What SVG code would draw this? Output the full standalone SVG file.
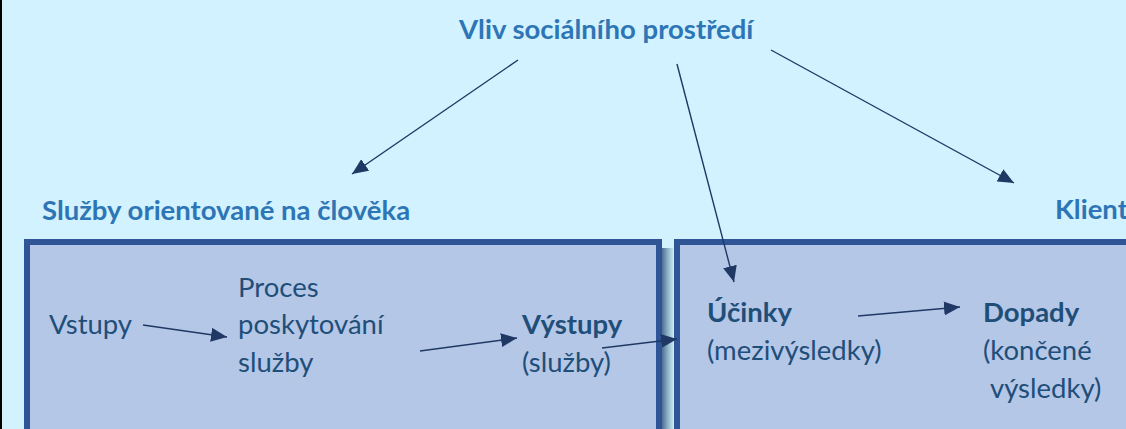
<svg xmlns="http://www.w3.org/2000/svg" width="1126" height="429" viewBox="0 0 1126 429">
  <style>
    .hdr { font-family: Lato, "Open Sans", sans-serif; font-weight: bold; font-size: 27.5px; fill: #2E75B6; }
    .txt { font-family: Lato, "Open Sans", sans-serif; font-size: 27.5px; fill: #1F4E79; }
    .b { font-weight: bold; }
    .box { fill: #B4C7E7; stroke: #2F5597; stroke-width: 6; }
    .con { stroke: #1F3864; stroke-width: 1.4; fill: none; marker-end: url(#ah); }
  </style>
  <defs>
    <marker id="ah" viewBox="0 0 16 14" refX="16" refY="7" markerWidth="16" markerHeight="14" markerUnits="userSpaceOnUse" orient="auto">
      <path d="M0,0 L16,7 L0,14 Z" fill="#1F3864"/>
    </marker>
    <linearGradient id="shd" x1="0" y1="0" x2="1" y2="0">
      <stop offset="0" stop-color="#4E6F93"/>
      <stop offset="0.5" stop-color="#8FB3C8"/>
      <stop offset="1" stop-color="#CDEFF8"/>
    </linearGradient>
  </defs>
  <rect x="0" y="0" width="1126" height="429" fill="#D1F2FE"/>
  <rect x="0" y="0" width="2" height="429" fill="#000000"/>

  <g id="shadow">
    <rect x="662" y="248" width="12" height="181" fill="url(#shd)"/>
  </g>

  <g id="node-sluzby">
    <rect class="box" x="27" y="242" width="632" height="200"/>
    <text class="hdr" x="42" y="220">Služby orientované na člověka</text>
  </g>
  <g id="node-klient">
    <rect class="box" x="677" y="242" width="460" height="200"/>
    <text class="hdr" x="1055" y="219">Klient</text>
  </g>
  <g id="node-vliv">
    <text class="hdr" x="459" y="39">Vliv sociálního prostředí</text>
  </g>
  <g id="node-vstupy">
    <text class="txt" x="49" y="334">Vstupy</text>
  </g>
  <g id="node-proces">
    <text class="txt" x="238" y="297">Proces</text>
    <text class="txt" x="238" y="334">poskytování</text>
    <text class="txt" x="238" y="372">služby</text>
  </g>
  <g id="node-vystupy">
    <text class="txt b" x="522" y="334">Výstupy</text>
    <text class="txt" x="522" y="372">(služby)</text>
  </g>
  <g id="node-ucinky">
    <text class="txt b" x="707" y="322">Účinky</text>
    <text class="txt" x="707" y="360">(mezivýsledky)</text>
  </g>
  <g id="node-dopady">
    <text class="txt b" x="983" y="322">Dopady</text>
    <text class="txt" x="983" y="360">(končené</text>
    <text class="txt" x="990" y="398">výsledky)</text>
  </g>

  <g id="connectors">
    <line class="con" x1="518" y1="60" x2="352" y2="174"/>
    <line class="con" x1="677" y1="64" x2="734" y2="282"/>
    <line class="con" x1="771" y1="50" x2="1014" y2="183"/>
    <line class="con" x1="143" y1="325" x2="227" y2="337"/>
    <line class="con" x1="420" y1="351" x2="517" y2="338"/>
    <line class="con" x1="602" y1="348" x2="677" y2="339"/>
    <line class="con" x1="858" y1="316" x2="960" y2="307"/>
  </g>
</svg>
